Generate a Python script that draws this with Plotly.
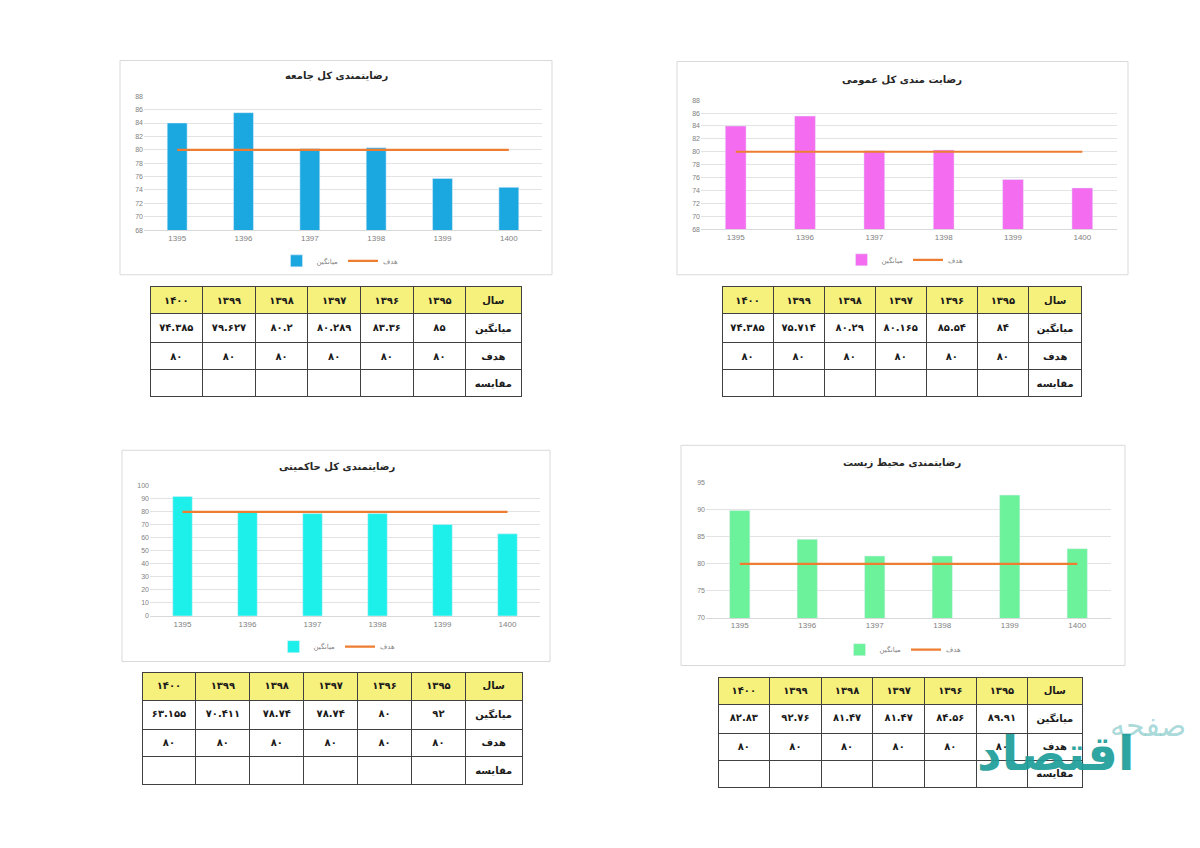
import plotly.graph_objects as go

W, H = 1200, 848

# ---------------- data ----------------
years = ["1395", "1396", "1397", "1398", "1399", "1400"]
years_fa = ["۱۳۹۵", "۱۳۹۶", "۱۳۹۷", "۱۳۹۸", "۱۳۹۹", "۱۴۰۰"]
target = [80, 80, 80, 80, 80, 80]

titles = ["رضایتمندی کل جامعه", "رضایت مندی کل عمومی", "رضایتمندی کل حاکمیتی", "رضایتمندی محیط زیست"]

mean_jameh = [84, 85.54, 80.165, 80.29, 75.714, 74.385]
mean_omumi = [84, 85.54, 80.165, 80.29, 75.714, 74.385]
mean_hakemiyati = [92, 80, 78.74, 78.74, 70.411, 63.155]
mean_mohit = [89.91, 84.56, 81.47, 81.47, 92.76, 82.83]

# table texts (1395 .. 1400)
tbl_mean_jameh = ["۸۵", "۸۳.۳۶", "۸۰.۲۸۹", "۸۰.۲", "۷۹.۶۲۷", "۷۴.۳۸۵"]
tbl_mean_omumi = ["۸۴", "۸۵.۵۴", "۸۰.۱۶۵", "۸۰.۲۹", "۷۵.۷۱۴", "۷۴.۳۸۵"]
tbl_mean_hakemiyati = ["۹۲", "۸۰", "۷۸.۷۴", "۷۸.۷۴", "۷۰.۴۱۱", "۶۳.۱۵۵"]
tbl_mean_mohit = ["۸۹.۹۱", "۸۴.۵۶", "۸۱.۴۷", "۸۱.۴۷", "۹۲.۷۶", "۸۲.۸۳"]
tbl_target = ["۸۰", "۸۰", "۸۰", "۸۰", "۸۰", "۸۰"]
row_labels = ["میانگین", "هدف", "مقایسه"]
year_label = "سال"
legend_mean = "میانگین"
legend_target = "هدف"

colors = ["#1BA8E0", "#F46CF0", "#1DF0EA", "#6BF29A"]
line_color = "#ED7D31"
yellow = "#F6F07C"

# ---------------- layout geometry (px) ----------------
def fx(p):
    return p / W

def fy(p):
    return 1 - p / H

charts = [
    dict(box=(120, 57, 552, 273), plot=(144, 93, 542, 228), rng=(68, 88), dt=2,
         title=(337, 73), legend=(340, 259), data=mean_jameh, tbl=tbl_mean_jameh,
         table=(150, 285, 521, 393)),
    dict(box=(677, 58, 1128, 273), plot=(701, 97, 1117, 227), rng=(68, 88), dt=2,
         title=(902, 77), legend=(905, 258), data=mean_omumi, tbl=tbl_mean_omumi,
         table=(722, 285, 1083, 390)),
    dict(box=(122, 450, 550, 663), plot=(150, 486, 540, 617), rng=(0, 100), dt=10,
         title=(337, 467), legend=(337, 648), data=mean_hakemiyati, tbl=tbl_mean_hakemiyati,
         table=(142, 674, 522, 785)),
    dict(box=(681, 445, 1125, 667), plot=(706, 483, 1111, 619), rng=(70, 95), dt=5,
         title=(902, 463), legend=(903, 651), data=mean_mohit, tbl=tbl_mean_mohit,
         table=(718, 679, 1083, 785)),
]

FA = "DejaVu Sans"
fig = go.Figure()
shapes = []
annotations = []
layout_extra = {}

for i, c in enumerate(charts):
    n = "" if i == 0 else str(i + 1)
    xa, ya = "x" + n, "y" + n
    lg = "legend" + n
    fig.add_trace(go.Bar(x=years, y=c["data"], marker_color=colors[i], name=legend_mean,
                         xaxis=xa, yaxis=ya, legend=lg))
    fig.add_trace(go.Scatter(x=years, y=target, mode="lines", name=legend_target,
                             line=dict(color=line_color, width=2.2), xaxis=xa, yaxis=ya, legend=lg))
    x0, y0, x1, y1 = c["plot"]
    layout_extra["xaxis" + n] = dict(domain=[fx(x0), fx(x1)], anchor=ya, type="category",
                                     showgrid=False, showline=True, linecolor="#D9D9D9",
                                     tickfont=dict(family="Liberation Sans", size=8, color="#7F7F7F"),
                                     ticks="", ticklen=0)
    layout_extra["yaxis" + n] = dict(domain=[fy(y1), fy(y0)], anchor=xa, range=list(c["rng"]),
                                     dtick=c["dt"], tick0=c["rng"][0], showgrid=True,
                                     gridcolor="#E3E3E3", zeroline=False, showline=False,
                                     tickfont=dict(family="Liberation Sans", size=7, color="#7F7F7F"),
                                     ticks="")
    layout_extra[lg] = dict(orientation="h", x=fx(c["legend"][0]), y=fy(c["legend"][1]),
                            xanchor="center", yanchor="middle", bgcolor="rgba(0,0,0,0)",
                            font=dict(family=FA, size=7, color="#7F7F7F"),
                            itemwidth=30, traceorder="normal")
    bx0, by0, bx1, by1 = c["box"]
    shapes.append(dict(type="rect", xref="paper", yref="paper", x0=fx(bx0), x1=fx(bx1),
                       y0=fy(by1), y1=fy(by0), line=dict(color="#D9D9D9", width=1),
                       fillcolor="white", layer="below"))
    annotations.append(dict(text="<b>" + titles[i] + "</b>", x=fx(c["title"][0]), y=fy(c["title"][1]),
                            xref="paper", yref="paper", showarrow=False,
                            font=dict(family=FA, size=10, color="#262626"),
                            xanchor="center", yanchor="middle"))

    # table
    tx0, ty0, tx1, ty1 = c["table"]
    nrows = 4
    rh = (ty1 - ty0) / nrows
    header = ["<b>" + v + "</b>" for v in years_fa[::-1]] + ["<b>" + year_label + "</b>"]
    tvals = c["tbl"][::-1]
    cols = []
    for k in range(6):
        cols.append(["<b>" + tvals[k] + "</b>", "<b>" + tbl_target[::-1][k] + "</b>", ""])
    cols.append(["<b>" + r + "</b>" for r in row_labels])
    fig.add_trace(go.Table(
        domain=dict(x=[fx(tx0), fx(tx1)], y=[fy(ty1 + 8), fy(ty0)]),
        columnwidth=[1, 1, 1, 1, 1, 1, 1.05],
        header=dict(values=header, fill_color=yellow, line=dict(color="#404040", width=1),
                    font=dict(family=FA, size=10, color="#1a1a1a"), align="center",
                    height=rh),
        cells=dict(values=cols, fill_color="white", line=dict(color="#404040", width=1),
                   font=dict(family=FA, size=10, color="#1a1a1a"), align="center",
                   height=rh),
    ))

# watermark
annotations.append(dict(text="<b>اقتصاد</b>", x=fx(1055), y=fy(755), xref="paper", yref="paper",
                        showarrow=False, textangle=0, xanchor="center", yanchor="middle",
                        font=dict(family=FA, size=48, color="#1E9E9A"), opacity=0.92))
annotations.append(dict(text="صفحه", x=fx(1148), y=fy(728), xref="paper", yref="paper",
                        showarrow=False, textangle=0, xanchor="center", yanchor="middle",
                        font=dict(family=FA, size=30, color="rgba(30,158,154,0.4)")))

fig.update_layout(
    width=W, height=H, margin=dict(l=0, r=0, t=0, b=0),
    paper_bgcolor="white", plot_bgcolor="white",
    bargap=0.7, showlegend=True,
    shapes=shapes, annotations=annotations,
    **layout_extra,
)

fig.write_html("out.html", config={"displayModeBar": False},
               post_script="document.body.style.margin='0';document.body.style.overflow='hidden';")
